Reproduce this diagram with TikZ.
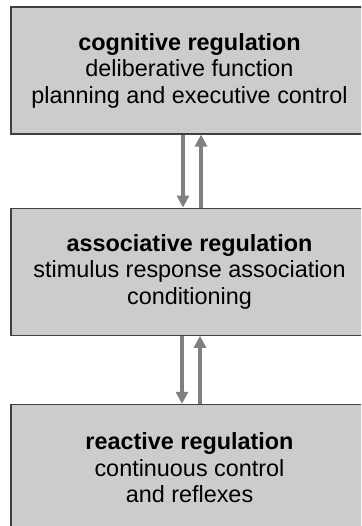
\documentclass[tikz,border=0pt]{standalone}
\usepackage{fontspec}
\setmainfont{Liberation Sans}
\usepackage{tikz}
\usetikzlibrary{arrows.meta}
\usetikzlibrary{positioning}

\definecolor{boxgray}{HTML}{CCCCCC}
\definecolor{flowgray}{HTML}{808080}
\definecolor{edgegray}{HTML}{404040}

\begin{document}
\begin{tikzpicture}[x=1pt,y=1pt,
	level/.style={draw=edgegray, line width=1.2pt, fill=boxgray, minimum width=357pt, minimum height=127pt, inner sep=0pt, align=center, font=\fontsize{23.4}{26.5}\selectfont},
	flow/.style={draw=flowgray, line width=4pt, -{Triangle[length=12pt,width=12pt]}}]
	\useasboundingbox (0,0) rectangle (361,-526);
	\clip (0,0) rectangle (361,-526);
	\node[level] (cog) at (189.5,-70.5) {\textbf{cognitive regulation}\\deliberative function\\planning and executive control};
	\node[level, below=73pt of cog] (asso) {\textbf{associative regulation}\\stimulus response association\\conditioning};
	\node[level, below=68pt of asso] (reac) {\textbf{reactive regulation}\\continuous control\\and reflexes};
	\draw[flow] ([xshift=-6.5pt]cog.south) -- ([xshift=-6.5pt]asso.north);
	\draw[flow] ([xshift=11.5pt]asso.north) -- ([xshift=11.5pt]cog.south);
	\draw[flow] ([xshift=-7.5pt]asso.south) -- ([xshift=-7.5pt]reac.north);
	\draw[flow] ([xshift=10.5pt]reac.north) -- ([xshift=10.5pt]asso.south);
\end{tikzpicture}
\end{document}
